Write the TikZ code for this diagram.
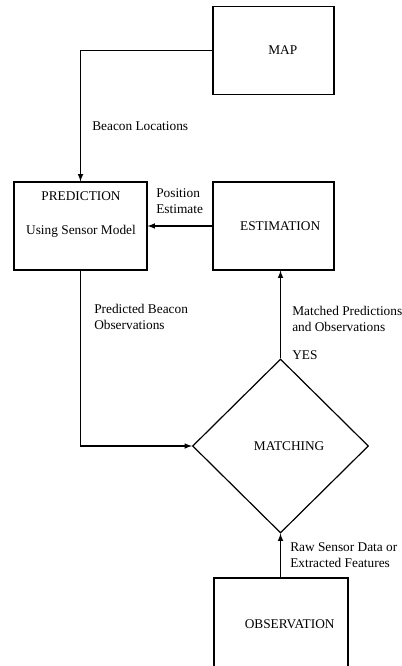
\documentclass[tikz,border=0pt]{standalone}
\usepackage{fontspec}
\setmainfont{Liberation Serif}
\usetikzlibrary{shapes.geometric}

\begin{document}
\begin{tikzpicture}[x=0.75pt,y=-0.75pt,
        box/.style={draw,line width=0.9pt,minimum width=#1,minimum height=66pt,inner sep=0pt},
        lbl/.style={anchor=west,align=left,inner sep=0pt,font=\fontsize{10}{12}\selectfont},
        flow/.style={line width=0.9pt,-latex}]
            \useasboundingbox (0,0) rectangle (401,666);
            \node[box=90.75pt,label={[xshift=7pt]center:MAP}] (map) at (273.5,50.5) {};
            \node[box=99.75pt] (pred) at (80.5,226) {};
            \node[align=center] (predtext) at (81,214.5) {PREDICTION\\[14pt]Using Sensor Model};
            \node[box=90.75pt,label={[xshift=5pt]center:ESTIMATION}] (est) at (273.5,226) {};
            \node[draw,diamond,line width=0.9pt,minimum width=132pt,minimum height=130.5pt,inner sep=0pt,
                label={[xshift=6.5pt]center:MATCHING}] (match) at (280.5,446) {};
            \node[box=100.5pt,minimum height=69pt,label={[xshift=6.5pt]center:OBSERVATION}] (obs) at (281,624) {};

            \draw[flow] (map.west) -| (pred.north);
            \draw[flow] (est.west) -- (pred.east);
            \draw[flow] (pred.south) |- (match.west);
            \draw[flow] (match.north) -- (match.north |- est.south);
            \draw[flow] (match.south |- obs.north) -- (match.south);

            \node[lbl] (beacon) at (92,126) {Beacon Locations};
            \node[lbl] (posest) at (156,201) {Position\\Estimate};
            \node[lbl] (predobs) at (94,316.5) {Predicted Beacon\\Observations};
            \node[lbl] (matched) at (292,318.5) {Matched Predictions\\and Observations};
            \node[lbl] (yes) at (292,355) {YES};
            \node[lbl] (raw) at (290,555.5) {Raw Sensor Data or\\Extracted Features};
        \end{tikzpicture}
\end{document}
